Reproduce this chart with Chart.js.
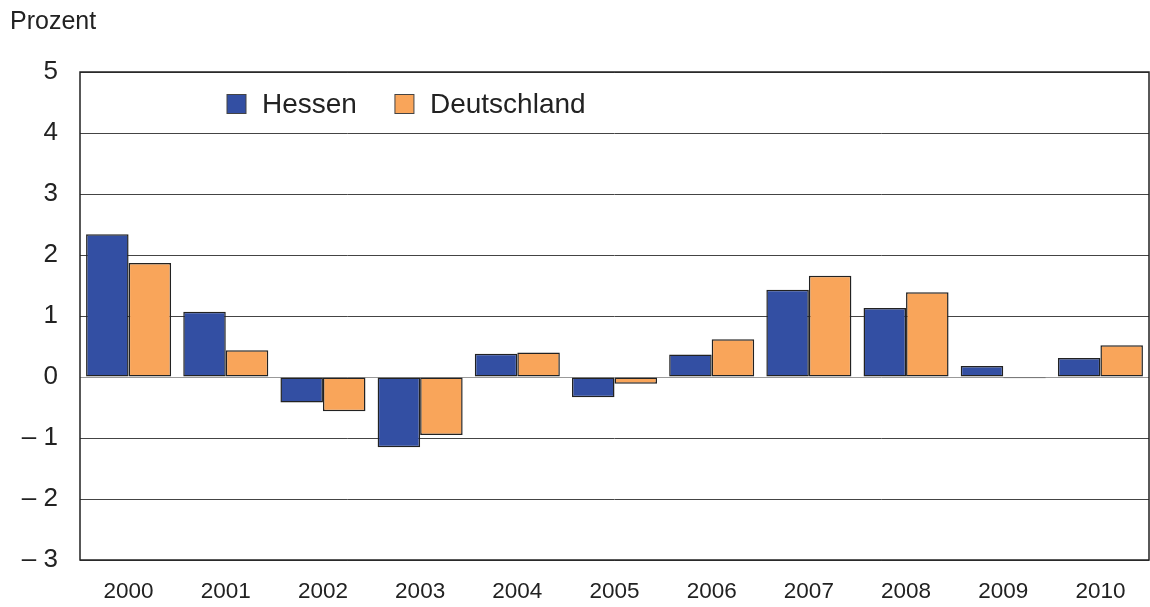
<!DOCTYPE html>
<html>
<head>
<meta charset="utf-8">
<script src="https://cdn.jsdelivr.net/npm/chart.js@4"></script>
<style>
  body { margin: 0; background: #fff; }
  #wrap { position: relative; width: 1150px; height: 607px; }
  #unit { position: absolute; left: 10px; top: 6px; font: 25px "Liberation Sans", Arial, sans-serif; color: #222; }
</style>
</head>
<body>
<div id="wrap">
  <div id="unit">Prozent</div>
  <canvas id="myChart" width="1150" height="607"></canvas>
</div>
<script>
const years = ['2000', '2001', '2002', '2003', '2004', '2005', '2006', '2007', '2008', '2009', '2010'];
const hessen = [2.34, 1.07, -0.42, -1.15, 0.38, -0.33, 0.37, 1.43, 1.13, 0.18, 0.31];
const deutschland = [1.87, 0.44, -0.56, -0.95, 0.40, -0.11, 0.62, 1.66, 1.39, -0.02, 0.52];
const yTicks = [-3, -2, -1, 0, 1, 2, 3, 4, 5];

const FONT = '"Liberation Sans", Arial, sans-serif';

// legend inside the plot + frame round the chart area
const frameAndLegend = {
  id: 'frameAndLegend',
  afterDraw(chart) {
    const { ctx, chartArea: a } = chart;
    ctx.save();
    ctx.strokeStyle = '#222';
    ctx.lineWidth = 1.5;
    ctx.strokeRect(a.left, a.top, a.right - a.left, a.bottom - a.top);

    ctx.font = '28px ' + FONT;
    ctx.textBaseline = 'middle';
    let x = 227;
    const y = 104;
    chart.data.datasets.forEach(ds => {
      ctx.fillStyle = ds.backgroundColor;
      ctx.fillRect(x, y - 9.5, 19, 19);
      ctx.strokeStyle = '#444';
      ctx.lineWidth = 1;
      ctx.strokeRect(x, y - 9.5, 19, 19);
      ctx.fillStyle = '#222';
      ctx.fillText(ds.label, x + 35, y + 1);
      x += 35 + ctx.measureText(ds.label).width + 38;
    });
    ctx.restore();
  }
};

new Chart(document.getElementById('myChart').getContext('2d'), {
  type: 'bar',
  data: {
    labels: years,
    datasets: [{
      label: 'Hessen',
      data: hessen,
      backgroundColor: '#334fa3',
      borderColor: '#222',
      borderWidth: 1.5,
      borderSkipped: false
    }, {
      label: 'Deutschland',
      data: deutschland,
      backgroundColor: '#f9a55a',
      borderColor: '#222',
      borderWidth: 1.5,
      borderSkipped: false
    }]
  },
  options: {
    responsive: false,
    animation: false,
    layout: { padding: { top: 72, right: 1, left: 0, bottom: 0 } },
    datasets: { bar: { categoryPercentage: 0.875, barPercentage: 1.0 } },
    plugins: { legend: { display: false }, tooltip: { enabled: false } },
    scales: {
      x: {
        grid: { display: false, drawTicks: false },
        border: { display: false },
        ticks: { font: { family: FONT, size: 22.5 }, color: '#222', padding: 18 },
        afterFit: s => { s.height = 47; }
      },
      y: {
        min: -3,
        max: 5,
        afterBuildTicks: s => { s.ticks = yTicks.map(v => ({ value: v })); },
        grid: {
          drawTicks: false,
          color: c => c.tick.value === 0 ? '#999' : '#444',
          lineWidth: 1
        },
        border: { display: false },
        ticks: {
          font: { family: FONT, size: 26 },
          color: '#222',
          padding: 22,
          callback: v => v < 0 ? '\u2013 ' + Math.abs(v) : String(v)
        },
        afterFit: s => { s.width = 80; }
      }
    }
  },
  plugins: [frameAndLegend]
});
</script>
</body>
</html>
